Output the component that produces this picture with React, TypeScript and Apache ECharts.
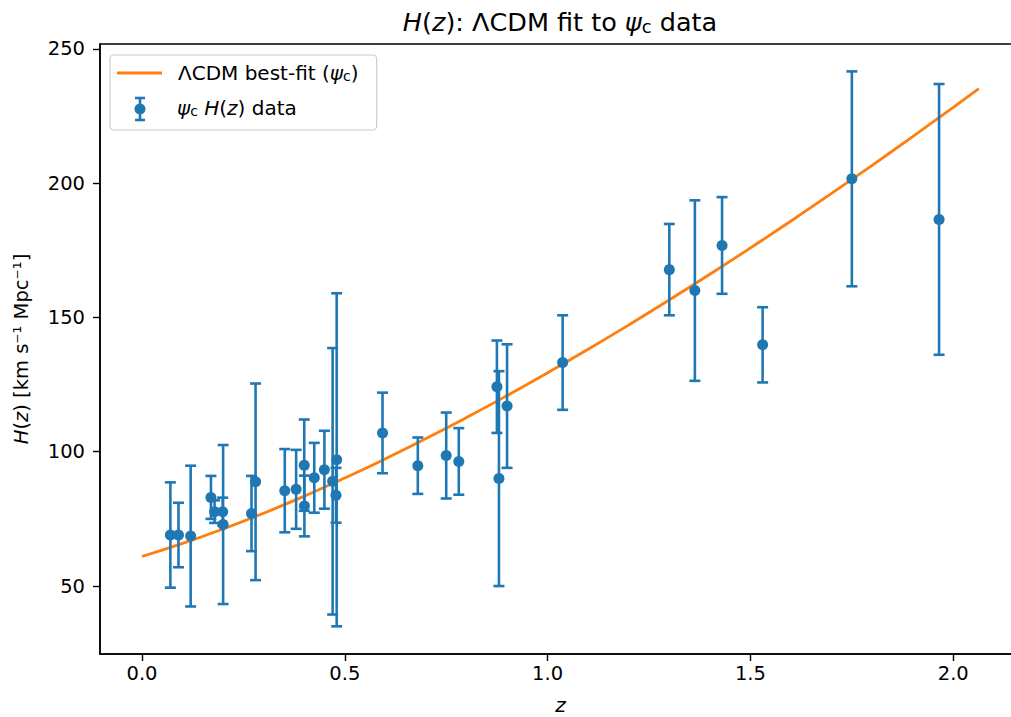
import React, { useEffect, useRef } from "react";
import * as echarts from "echarts";

// Observational H(z) data (psi_c)
const zData = [0.07, 0.09, 0.12, 0.17, 0.179, 0.199, 0.2, 0.27, 0.28, 0.352, 0.38, 0.4, 0.4004, 0.4247, 0.4497, 0.47, 0.4783, 0.48, 0.593, 0.68, 0.75, 0.781, 0.875, 0.88, 0.9, 1.037, 1.3, 1.363, 1.43, 1.53, 1.75, 1.965];
const hData = [69, 69, 68.6, 83, 77.7, 77.7, 72.9, 77, 88.8, 85.5, 86, 95, 79.8, 90.3, 93.3, 89, 83.8, 97, 107, 94.8, 98.6, 96.4, 124.2, 90, 117, 133.2, 167.8, 160, 176.8, 139.8, 201.6, 186.5];
const errData = [19.6, 12, 26.2, 8, 4.2, 5.2, 29.6, 14, 36.6, 15.5, 14.7, 17, 11.3, 13, 14.5, 49.6, 10.2, 62, 15, 10.5, 16, 12.4, 17.2, 40, 23, 17.6, 17, 33.6, 18, 14, 40, 50.4];

// LCDM best-fit curve samples
const modelZ = [0, 0.1, 0.2, 0.3, 0.4, 0.5, 0.6, 0.7, 0.8, 0.9, 1.0, 1.1, 1.2, 1.3, 1.4, 1.5, 1.6, 1.7, 1.8, 1.9, 2.0, 2.063];
const modelH = [61, 65.86, 71.24, 77.12, 83.46, 90.22, 97.37, 104.89, 112.74, 120.92, 129.4, 138.17, 147.21, 156.52, 166.07, 175.87, 185.9, 196.17, 206.65, 217.34, 228.24, 235.21];

// Tick values
const xTicks = [0, 0.5, 1.0, 1.5, 2.0];
const yTicks = [50, 100, 150, 200, 250];

const BLUE = "#1f77b4";
const ORANGE = "#ff7f0e";
const FONT = "DejaVu Sans";

const richBase = (size: number) => ({
  i: { fontStyle: "italic", fontSize: size, fontFamily: FONT, color: "#000", fill: "#000" },
  s: { fontSize: Math.round(size * 0.72), fontFamily: FONT, color: "#000", fill: "#000", verticalAlign: "bottom" },
});

export default function App() {
  const ref = useRef<HTMLDivElement>(null);
  useEffect(() => {
    if (!ref.current) return;
    const chart = echarts.init(ref.current, null, { renderer: "svg" });
    const errItems = zData.map((z, i) => [z, hData[i] - errData[i], hData[i] + errData[i]]);
    const option: any = {
      animation: false,
      backgroundColor: "#fff",
      grid: {
        left: 100,
        top: 44,
        right: 9,
        bottom: 63,
        outerBoundsMode: "none",
        containLabel: false,
        show: true,
        borderColor: "#000",
        borderWidth: 1.5,
        backgroundColor: "transparent",
      },
      xAxis: {
        type: "value",
        min: -0.1035,
        max: 2.167,
        name: "z",
        nameLocation: "middle",
        nameGap: 41,
        nameTextStyle: { fontSize: 20, fontFamily: FONT, fontStyle: "italic", color: "#000" },
        axisLine: { show: true, onZero: false, lineStyle: { color: "#000", width: 1.5 } },
        axisTick: { show: true, length: 7, customValues: xTicks, lineStyle: { color: "#000", width: 1.4 } },
        axisLabel: {
          customValues: xTicks,
          formatter: (v: number) => v.toFixed(1),
          fontSize: 19.5,
          fontFamily: FONT,
          color: "#000",
          margin: 9,
        },
        splitLine: { show: false },
      },
      yAxis: {
        type: "value",
        min: 24.7,
        max: 251.8,
        name: "{i|H}({i|z}) [km s⁻¹ Mpc⁻¹]",
        nameLocation: "middle",
        nameRotate: 90,
        nameGap: 69,
        nameTextStyle: { fontSize: 19.5, fontFamily: FONT, color: "#000", rich: richBase(19.5) },
        axisLine: { show: true, onZero: false, lineStyle: { color: "#000", width: 1.5 } },
        axisTick: { show: true, length: 7, customValues: yTicks, lineStyle: { color: "#000", width: 1.4 } },
        axisLabel: {
          customValues: yTicks,
          fontSize: 19.5,
          fontFamily: FONT,
          color: "#000",
          margin: 15,
        },
        splitLine: { show: false },
      },
      series: [
        {
          type: "line",
          data: modelZ.map((z, i) => [z, modelH[i]]),
          showSymbol: false,
          smooth: true,
          lineStyle: { color: ORANGE, width: 2.8 },
          itemStyle: { color: ORANGE },
          z: 2,
        },
        {
          type: "custom",
          data: errItems,
          encode: { x: 0, y: [1, 2] },
          z: 3,
          renderItem: (params: any, api: any) => {
            const x = api.value(0);
            const lo = api.coord([x, api.value(1)]);
            const hi = api.coord([x, api.value(2)]);
            const cw = 5.5;
            const st = { stroke: BLUE, lineWidth: 2.6 };
            return {
              type: "group",
              children: [
                { type: "line", shape: { x1: lo[0], y1: lo[1], x2: hi[0], y2: hi[1] }, style: st },
                { type: "line", shape: { x1: lo[0] - cw, y1: lo[1], x2: lo[0] + cw, y2: lo[1] }, style: st },
                { type: "line", shape: { x1: hi[0] - cw, y1: hi[1], x2: hi[0] + cw, y2: hi[1] }, style: st },
              ],
            };
          },
        },
        {
          type: "scatter",
          data: zData.map((z, i) => [z, hData[i]]),
          symbol: "circle",
          symbolSize: 11,
          itemStyle: { color: BLUE, opacity: 1 },
          z: 4,
        },
      ],
      graphic: [
        {
          type: "text",
          x: 560,
          y: 22,
          z: 100,
          style: {
            text: "{i|H}({i|z}): ΛCDM fit to {i|ψ}{s|c} data",
            fontSize: 25.5,
            fontFamily: FONT,
            fill: "#000",
            align: "center",
            verticalAlign: "middle",
            rich: richBase(25.5),
          },
        },
        {
          type: "rect",
          z: 100,
          shape: { x: 110, y: 55, width: 266.7, height: 75, r: 4 },
          style: { fill: "rgba(255,255,255,0.8)", stroke: "#cccccc", lineWidth: 1.2 },
        },
        {
          type: "line",
          z: 101,
          shape: { x1: 117, y1: 73, x2: 162, y2: 73 },
          style: { stroke: ORANGE, lineWidth: 2.8 },
        },
        {
          type: "text",
          z: 101,
          x: 178,
          y: 73,
          style: {
            text: "ΛCDM best-fit ({i|ψ}{s|c})",
            fontSize: 20,
            fontFamily: FONT,
            fill: "#000",
            align: "left",
            verticalAlign: "middle",
            rich: richBase(20),
          },
        },
        { type: "line", z: 101, shape: { x1: 140, y1: 98, x2: 140, y2: 120 }, style: { stroke: BLUE, lineWidth: 2.6 } },
        { type: "line", z: 101, shape: { x1: 135, y1: 98, x2: 145, y2: 98 }, style: { stroke: BLUE, lineWidth: 2.6 } },
        { type: "line", z: 101, shape: { x1: 135, y1: 120, x2: 145, y2: 120 }, style: { stroke: BLUE, lineWidth: 2.6 } },
        { type: "circle", z: 102, shape: { cx: 140, cy: 109, r: 5.5 }, style: { fill: BLUE } },
        {
          type: "text",
          z: 101,
          x: 177,
          y: 108,
          style: {
            text: "{i|ψ}{s|c} {i|H}({i|z}) data",
            fontSize: 20,
            fontFamily: FONT,
            fill: "#000",
            align: "left",
            verticalAlign: "middle",
            rich: richBase(20),
          },
        },
      ],
    };
    chart.setOption(option);
    return () => chart.dispose();
  }, []);
  return (
    <div style={{ position: "absolute", left: 0, top: 0, width: 1011, height: 717, overflow: "hidden" }}>
      <div ref={ref} style={{ position: "absolute", left: 0, top: 0, width: 1030, height: 717 }} />
    </div>
  );
}
